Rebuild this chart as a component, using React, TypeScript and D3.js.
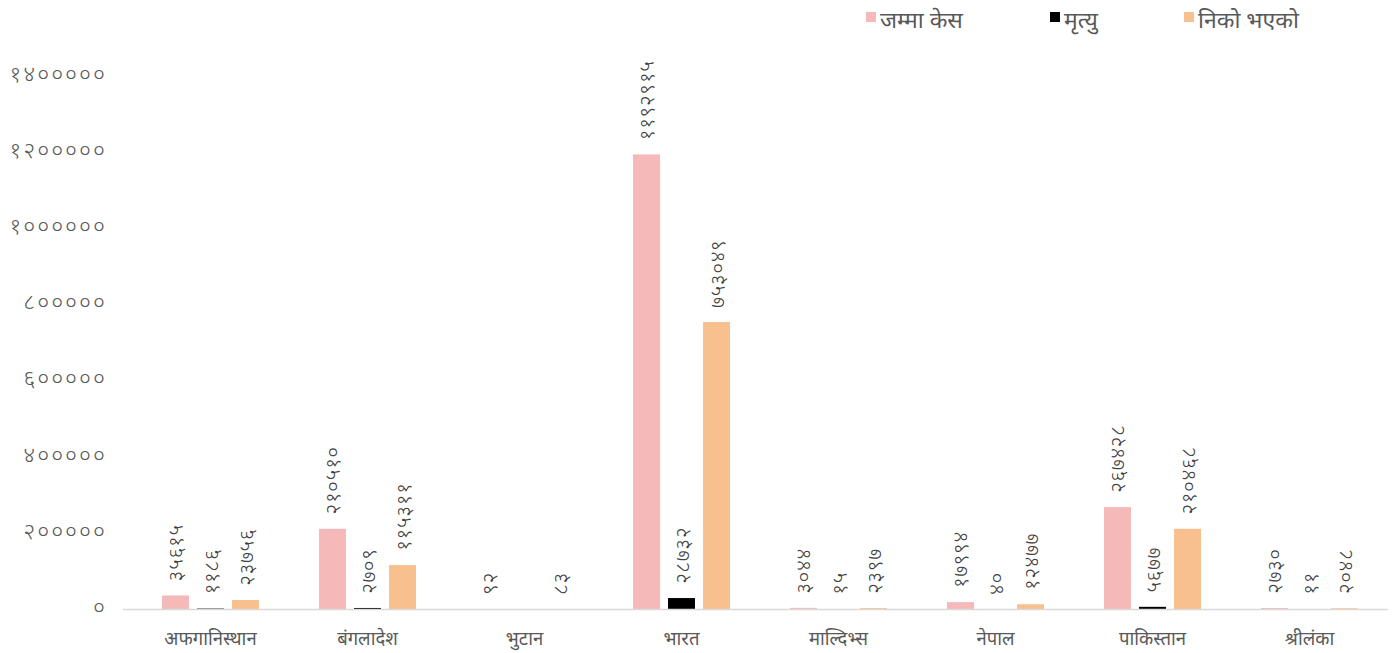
import * as d3 from 'd3';

const categories = ['अफगानिस्थान', 'बंगलादेश', 'भुटान', 'भारत', 'माल्दिभ्स', 'नेपाल', 'पाकिस्तान', 'श्रीलंका'];
const seriesNames = ['जम्मा केस', 'मृत्यु', 'निको भएको'];
const seriesColors = ['#F4B9B8', '#000000', '#F9C08F'];

const totalCases = [35615, 210510, 92, 1192915, 3044, 17994, 267428, 2730];
const deaths = [1186, 2709, 0, 28732, 15, 40, 5677, 11];
const recovered = [23756, 115311, 83, 753049, 2397, 12477, 210468, 2048];

const yTicks = [0, 200000, 400000, 600000, 800000, 1000000, 1200000, 1400000];

const WIDTH = 1400;
const HEIGHT = 653;

const devanagariDigits = '०१२३४५६७८९';
const toNepali = (n: number) => String(n).replace(/[0-9]/g, d => devanagariDigits[+d]);

const FONT = "'Noto Sans', 'Noto Sans Devanagari', sans-serif";

export default function App() {
  const series = [totalCases, deaths, recovered];

  const y = d3.scaleLinear().domain([0, 1400000]).range([609, 75.5]);
  const x = d3.scaleBand<string>().domain(categories).range([132, 1388]).padding(0);
  const inner = d3
    .scaleBand<number>()
    .domain([0, 1, 2])
    .range([-48.5, 48.5])
    .paddingInner(0.23)
    .paddingOuter(0);

  const legendX = [866, 1050, 1184];

  return (
    <svg width={WIDTH} height={HEIGHT} style={{ position: 'absolute', left: 0, top: 0 }} fontFamily={FONT}>
      <rect width={WIDTH} height={HEIGHT} fill="#ffffff" />

      {/* y tick labels */}
      {yTicks.map(t => (
        <text
          key={t}
          x={107}
          y={y(t) - 3}
          textAnchor="end"
          dominantBaseline="central"
          fontSize={23}
          letterSpacing={2}
          fontWeight={300}
          fill="#595959"
        >
          {toNepali(t)}
        </text>
      ))}

      {/* bars + value labels */}
      {categories.map((c, i) => {
        const cx = (x(c) ?? 0) + x.bandwidth() / 2;
        return (
          <g key={c}>
            {series.map((vals, s) => {
              const v = vals[i];
              const bx = cx + (inner(s) ?? 0);
              const top = y(v);
              return (
                <g key={s}>
                  <rect x={bx} y={top} width={inner.bandwidth()} height={y(0) - top} fill={seriesColors[s]} />
                  {v > 0 && (
                    <text
                      transform={`translate(${bx + inner.bandwidth() / 2},${top - 14}) rotate(-90)`}
                      textAnchor="start"
                      dominantBaseline="central"
                      fontSize={21}
                      fontWeight={300}
                      letterSpacing={0.5}
                      fill="#404040"
                    >
                      {toNepali(v)}
                    </text>
                  )}
                </g>
              );
            })}
            <text x={cx} y={637} textAnchor="middle" dominantBaseline="central" fontSize={18.5} fill="#595959">
              {c}
            </text>
          </g>
        );
      })}

      {/* x axis line */}
      <line x1={123} x2={1388} y1={609.5} y2={609.5} stroke="#d9d9d9" strokeWidth={1.5} />

      {/* legend */}
      {seriesNames.map((name, s) => (
        <g key={name} transform={`translate(${legendX[s]},0)`}>
          <rect x={0} y={12} width={10} height={10} fill={seriesColors[s]} />
          <text x={14} y={19} dominantBaseline="central" fontSize={23} fill="#595959">
            {name}
          </text>
        </g>
      ))}
    </svg>
  );
}
